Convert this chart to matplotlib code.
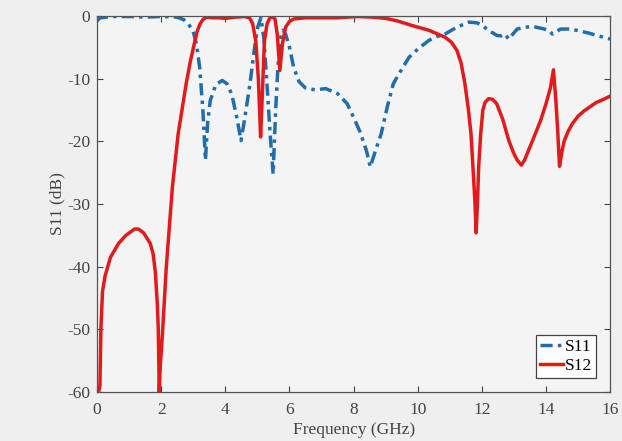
import matplotlib
matplotlib.use("Agg")
import matplotlib.pyplot as plt

s11_freq = [0, 0.1, 0.5, 1.0, 1.5, 2.0, 2.5, 2.7, 2.85, 3.0, 3.1, 3.2, 3.3, 3.38, 3.45, 3.53, 3.7, 3.9,
            4.05, 4.2, 4.35, 4.49, 4.6, 4.77, 4.9, 5.01, 5.11, 5.2, 5.3, 5.4, 5.49, 5.57, 5.64, 5.72,
            5.8, 5.88, 6.0, 6.13, 6.3, 6.5, 6.8, 7.13, 7.5, 7.8, 8.0, 8.2, 8.4, 8.52, 8.65, 8.86, 9.05,
            9.24, 9.5, 9.73, 10.0, 10.35, 10.6, 10.85, 11.22, 11.59, 11.84, 12.0, 12.21, 12.46, 12.6,
            12.71, 12.84, 12.95, 13.1, 13.35, 13.6, 13.95, 14.1, 14.2, 14.3, 14.45, 14.7, 14.95, 15.3,
            15.57, 16]
s11_db = [-0.8, -0.3, -0.1, -0.1, -0.2, -0.1, -0.2, -0.6, -1.3, -2.5, -4.5, -8.2, -15, -23, -17, -13.5,
          -11, -10.3, -10.8, -12.5, -16, -19.9, -16.5, -10.8, -5.5, -1.8, -0.3, -3.5, -11, -19, -25.2,
          -15, -8.2, -3.5, -2.3, -2.9, -5.0, -8.2, -10.5, -11.5, -11.8, -11.6, -12.4, -14, -16.2,
          -18.5, -21.5, -24.1, -22, -18.8, -14.5, -10.8, -8.5, -6.6, -5.3, -3.9, -3.3, -2.9, -1.8,
          -1.0, -1.1, -1.5, -2.3, -3.1, -3.2, -2.9, -3.7, -3.0, -2.1, -1.8, -1.7, -2.1, -2.4, -2.9,
          -2.6, -2.1, -2.1, -2.3, -2.7, -3.1, -3.7]

s12_freq = [0.05, 0.09, 0.12, 0.17, 0.25, 0.42, 0.67, 0.9, 1.17, 1.29, 1.45, 1.66, 1.75, 1.82, 1.88,
            1.91, 1.94, 1.97, 2.04, 2.16, 2.35, 2.53, 2.78, 2.9, 3.03, 3.12, 3.21, 3.3, 3.4, 3.6, 3.8,
            4.0, 4.3, 4.6, 4.75, 4.85, 4.95, 5.03, 5.1, 5.15, 5.22, 5.3, 5.38, 5.46, 5.55, 5.62, 5.7,
            5.78, 5.88, 6.0, 6.13, 6.5, 7.0, 7.5, 8.1, 8.6, 9.0, 9.36, 9.8, 10.35, 10.85, 11.05, 11.22,
            11.35, 11.47, 11.58, 11.66, 11.72, 11.78, 11.82, 11.86, 11.9, 11.96, 12.03, 12.1, 12.21,
            12.33, 12.46, 12.65, 12.84, 13.0, 13.1, 13.23, 13.33, 13.45, 13.65, 13.83, 14.0, 14.14,
            14.23, 14.3, 14.36, 14.42, 14.5, 14.57, 14.7, 14.82, 15.0, 15.2, 15.57, 15.8, 16]
s12_db = [-60, -59, -50, -44, -41.5, -38.5, -36.3, -35, -34, -34, -34.6, -36.3, -38, -41, -46, -50,
          -60, -56, -50.7, -40, -27.3, -18.8, -10.8, -7.5, -4.5, -2.5, -1.3, -0.6, -0.2, -0.3, -0.3,
          -0.4, -0.2, -0.1, -0.3, -1.2, -4, -10, -19.3, -13, -4, -1.3, -0.4, -0.1, -0.5, -3, -8.7,
          -4.5, -1.8, -0.9, -0.5, -0.3, -0.3, -0.3, -0.1, -0.2, -0.4, -0.8, -1.5, -2.3, -3.4, -4.2,
          -5.5, -7.5, -10.8, -15, -18.8, -24, -29.4, -34.6, -30, -24, -19, -15, -13.8, -13.2, -13.3,
          -14, -16.5, -19.9, -22, -23, -23.8, -23, -21.5, -19, -16.7, -14, -11.4, -8.6, -13, -18,
          -24, -21.5, -19.9, -18.3, -17.2, -16.0, -15.1, -13.8, -13.3, -12.8]

x_ticks = [0, 2, 4, 6, 8, 10, 12, 14, 16]
y_ticks = [0, -10, -20, -30, -40, -50, -60]

plt.rcParams['font.family'] = ['Liberation Serif', 'DejaVu Serif']
plt.rcParams['axes.unicode_minus'] = False

bg = '#efefef'
fig = plt.figure(figsize=(6.22, 4.41), dpi=100, facecolor=bg)

ax = fig.add_axes([0.156, 0.111, 0.825, 0.853])
ax.set_facecolor('#f4f4f4')

ax.plot(s11_freq, s11_db, color='#1f6eab', lw=2.5, ls=(0, (3.5, 1.5, 1, 1.5)), label='S11')
ax.plot(s12_freq, s12_db, color='#e31a1c', lw=2.5, label='S12')

ax.set_xlim(0, 16)
ax.set_ylim(-60, 0)
ax.set_xticks(x_ticks)
ax.set_yticks(y_ticks)
ax.tick_params(direction='in', top=True, right=True, labelsize=12.5, colors='#444444', length=4)
ax.tick_params(axis='x', pad=7)
ax.tick_params(axis='y', pad=5)
for s in ax.spines.values():
    s.set_color('#555555')
    s.set_linewidth(0.9)
ax.set_xlabel('Frequency (GHz)', fontsize=12.5, color='#444444', labelpad=3)
ax.set_ylabel('S11 (dB)', fontsize=12.5, color='#444444', labelpad=1)

leg = ax.legend(loc='lower right', fontsize=12.5, frameon=True, fancybox=False,
                edgecolor='#444444', facecolor='white', framealpha=1,
                handlelength=1.3, handletextpad=0.1, borderpad=0.25, labelspacing=0.15,
                borderaxespad=0.8)
leg.get_frame().set_linewidth(0.9)

fig.savefig('out.png', dpi=100, facecolor=bg)
